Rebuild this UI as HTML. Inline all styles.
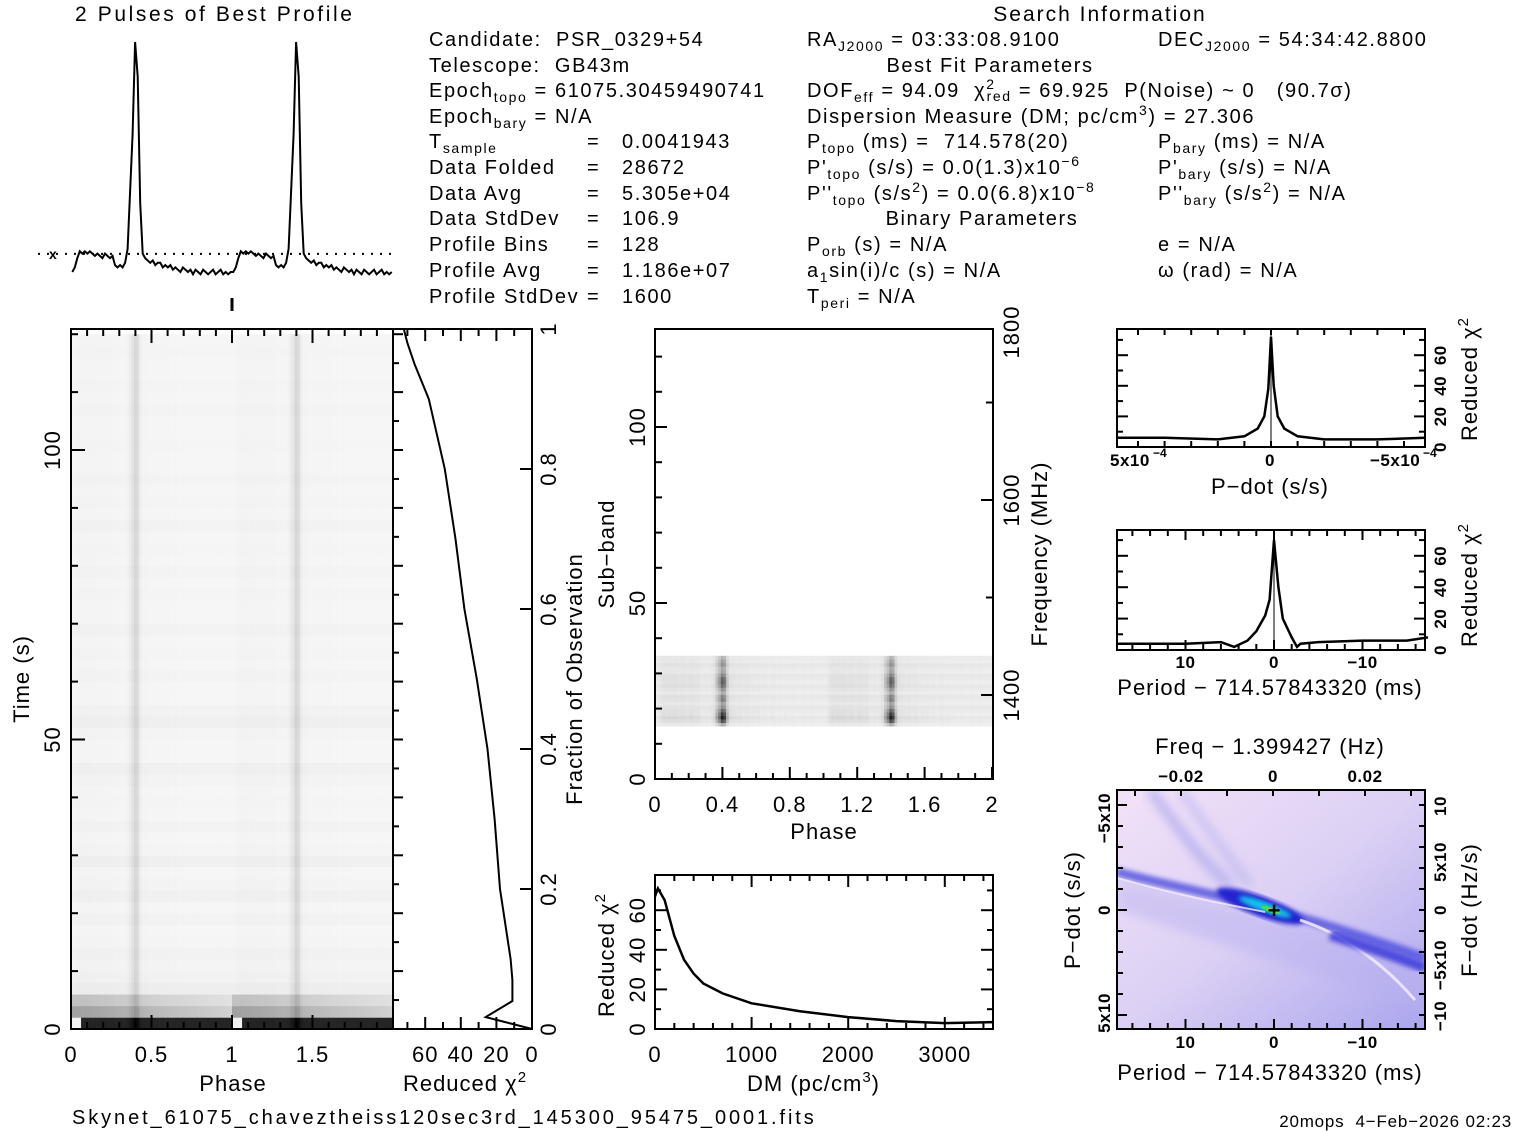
<!DOCTYPE html>
<html><head><meta charset="utf-8"><style>
html,body{margin:0;padding:0;background:#fff;}
svg{display:block;font-family:"Liberation Sans",sans-serif;}
text{fill:#000;font-size:20px;white-space:pre;}
.hd text{font-size:20px;letter-spacing:1.6px;}
</style></head><body>
<svg id="fig" width="1517" height="1133" viewBox="0 0 1517 1133" xmlns="http://www.w3.org/2000/svg" xml:space="preserve">
<defs>
<linearGradient id="bgGrad" x1="0" y1="0" x2="1" y2="1">
<stop offset="0" stop-color="#f2e2f8"/><stop offset="0.5" stop-color="#dcd0f4"/><stop offset="1" stop-color="#aaa6ee"/></linearGradient>
<filter id="blur4"><feGaussianBlur stdDeviation="5"/></filter>
<filter id="blur2"><feGaussianBlur stdDeviation="2.5"/></filter>
<clipPath id="mapClip"><rect x="1117" y="790" width="308" height="239"/></clipPath>
</defs>
<g id="layer"></g>
<g class="hd">
<text x="75" y="21" style="font-size:21px;letter-spacing:2.6px">2 Pulses of Best Profile</text>
<text x="1100" y="21" text-anchor="middle" style="font-size:21px;letter-spacing:2px">Search Information</text>
<text x="429" y="46">Candidate:  PSR_0329+54</text>
<text x="429" y="72">Telescope:  GB43m</text>
<text x="429" y="97">Epoch<tspan font-size="14" dy="5">topo</tspan><tspan dy="-5"> = 61075.30459490741</tspan></text>
<text x="429" y="123">Epoch<tspan font-size="14" dy="5">bary</tspan><tspan dy="-5"> = N/A</tspan></text>
<text x="429" y="148">T<tspan font-size="14" dy="5">sample</tspan></text>
<text x="429" y="174">Data Folded</text>
<text x="429" y="200">Data Avg</text>
<text x="429" y="225">Data StdDev</text>
<text x="429" y="251">Profile Bins</text>
<text x="429" y="277">Profile Avg</text>
<text x="429" y="303">Profile StdDev</text>
<text x="587" y="148">=</text><text x="587" y="174">=</text><text x="587" y="200">=</text><text x="587" y="225">=</text><text x="587" y="251">=</text><text x="587" y="277">=</text><text x="587" y="303">=</text>
<text x="622" y="148">0.0041943</text>
<text x="622" y="174">28672</text>
<text x="622" y="200">5.305e+04</text>
<text x="622" y="225">106.9</text>
<text x="622" y="251">128</text>
<text x="622" y="277">1.186e+07</text>
<text x="622" y="303">1600</text>
<text x="807" y="46">RA<tspan font-size="14" dy="5">J2000</tspan><tspan dy="-5"> = 03:33:08.9100</tspan></text>
<text x="1158" y="46">DEC<tspan font-size="14" dy="5">J2000</tspan><tspan dy="-5"> = 54:34:42.8800</tspan></text>
<text x="990" y="72" text-anchor="middle">Best Fit Parameters</text>
<text x="807" y="97">DOF<tspan font-size="14" dy="5">eff</tspan><tspan dy="-5"> = 94.09  χ</tspan><tspan font-size="14" dy="-8">2</tspan><tspan font-size="14" dy="12" dx="-9">red</tspan><tspan dy="-4"> = 69.925  P(Noise) ~ 0   (90.7σ)</tspan></text>
<text x="807" y="123">Dispersion Measure (DM; pc/cm<tspan font-size="14" dy="-8">3</tspan><tspan dy="8">) = 27.306</tspan></text>
<text x="807" y="148">P<tspan font-size="14" dy="5">topo</tspan><tspan dy="-5"> (ms) =  714.578(20)</tspan></text>
<text x="1158" y="148">P<tspan font-size="14" dy="5">bary</tspan><tspan dy="-5"> (ms) = N/A</tspan></text>
<text x="807" y="174">P'<tspan font-size="14" dy="5">topo</tspan><tspan dy="-5"> (s/s) = 0.0(1.3)x10</tspan><tspan font-size="14" dy="-8">−6</tspan></text>
<text x="1158" y="174">P'<tspan font-size="14" dy="5">bary</tspan><tspan dy="-5"> (s/s) = N/A</tspan></text>
<text x="807" y="200">P''<tspan font-size="14" dy="5">topo</tspan><tspan dy="-5"> (s/s</tspan><tspan font-size="14" dy="-8">2</tspan><tspan dy="8">) = 0.0(6.8)x10</tspan><tspan font-size="14" dy="-8">−8</tspan></text>
<text x="1158" y="200">P''<tspan font-size="14" dy="5">bary</tspan><tspan dy="-5"> (s/s</tspan><tspan font-size="14" dy="-8">2</tspan><tspan dy="8">) = N/A</tspan></text>
<text x="982" y="225" text-anchor="middle">Binary Parameters</text>
<text x="807" y="251">P<tspan font-size="14" dy="5">orb</tspan><tspan dy="-5"> (s) = N/A</tspan></text>
<text x="1158" y="251">e = N/A</text>
<text x="807" y="277">a<tspan font-size="14" dy="5">1</tspan><tspan dy="-5">sin(i)/c (s) = N/A</tspan></text>
<text x="1158" y="277">ω (rad) = N/A</text>
<text x="807" y="303">T<tspan font-size="14" dy="5">peri</tspan><tspan dy="-5"> = N/A</tspan></text>
<text x="72" y="1124" style="font-size:20px;letter-spacing:2.9px">Skynet_61075_chaveztheiss120sec3rd_145300_95475_0001.fits</text>
<text x="1512" y="1127" text-anchor="end" style="font-size:17px;letter-spacing:0.8px">20mops  4−Feb−2026 02:23</text>
</g>
</svg>
<script>
// ---- data ----
const profileBins = [0,2,6,9,8, 9,8,9,8,7,8,7,6,8,7,6,7, 3,2,3,2,4, 10,35,60,100,85,30,8,
 6,5,4,5,3,4,4,2,3,2,3,1,2,1,0,2,1,0,1,-1,1,0,-1,1,0,-1,0,1,-1,0,1,-1,0,-1,0];
const timeRowLevel = [215,70,45,14,10,8,10,7,6,9,6,11,8,6,12,7,6,9,6,7,6,8,11,6,6,7,12,9,6,6,8,6,7,6,9,6,6,7,6,8,6,7,6,9,6,7,6,8,6,6,7,6,6,8,6,7,6,6,7,6];
const chiFrac = [0,0.017,0.04,0.07,0.1,0.2,0.3,0.4,0.5,0.6,0.7,0.8,0.9,0.95,0.98,1];
const chiVals = [0,26,11,11,12,18,21,25,31,38,43,49,58,66,70,72];
const subbandLevel = [30,70,90,80,60,40,35,50,45,30,40,55,65,60,45,35,30,40,35,25];
const dmVals = [0,30,100,200,300,400,500,700,1000,1500,2000,2500,3000,3500];
const dmChi = [67,71,65,47,35,28,23,18,13,9,6,4,3,3.5];
const pdVals = [5.8e-4,4e-4,2e-4,1e-4,0.5e-4,0.25e-4,0.1e-4,0,-0.1e-4,-0.25e-4,-0.5e-4,-1e-4,-2e-4,-4e-4,-5.8e-4];
const pdChi = [6,6,5,7,12,20,38,72,40,20,12,7,5,5,6];
const perVals = [17.8,15,10,6,4.5,3,2,1,0.5,0,-0.5,-1,-2,-2.6,-3,-5,-10,-15,-17.4];
const perChi = [4,4,4,5,2,6,12,22,32,70,40,20,8,2,4,5,6,6,8];

const NS='http://www.w3.org/2000/svg';
const L=document.getElementById('layer');
function mk(tag,a,parent){const e=document.createElementNS(NS,tag);for(const k in a)e.setAttribute(k,a[k]);(parent||L).appendChild(e);return e;}
function txt(x,y,s,opt){const o=Object.assign({x:x,y:y,style:'font-size:22px;letter-spacing:1px'},opt||{});const e=mk('text',o);e.textContent=s;return e;}
function chiLabel(x,y,rot){const e=mk('text',{x:x,y:y,'text-anchor':'middle',style:'font-size:22px;letter-spacing:1px',transform:rot?`rotate(-90 ${x} ${y})`:'',dy:rot?7:0});
 const t1=document.createElementNS(NS,'tspan');t1.textContent='Reduced χ';e.appendChild(t1);
 const t2=document.createElementNS(NS,'tspan');t2.setAttribute('dy','-9');t2.setAttribute('font-size','15');t2.textContent='2';e.appendChild(t2);return e;}
function line(x1,y1,x2,y2,w){return mk('line',{x1,y1,x2,y2,stroke:'#000','stroke-width':w||2});}
function pathFrom(xs,ys,fx,fy){let d='';for(let i=0;i<xs.length;i++)d+=(i?'L':'M')+fx(xs[i]).toFixed(1)+','+fy(ys[i]).toFixed(1);return d;}
const SM='font-size:17px;font-weight:bold;letter-spacing:0.5px';

// ---- profile (top left) ----
const prX=ph=>71+ph*161, prY=v=>272-v*2.3;
const nb=profileBins.length;
let pd='';
for(let r=0;r<2;r++)for(let i=0;i<nb;i++){pd+=(pd?'L':'M')+prX(r+(i+0.5)/nb).toFixed(1)+','+prY(profileBins[i]).toFixed(1);}
const prof=mk('path',{d:pd,fill:'none',stroke:'#000','stroke-width':2});


const mean=profileBins.reduce((a,b)=>a+b,0)/nb;
const ml=mk('line',{x1:38,y1:prY(mean),x2:395,y2:prY(mean),stroke:'#000','stroke-width':2,'stroke-dasharray':'2,7'});


txt(49,prY(mean)+5,'x',{style:'font-size:14px;font-weight:bold'});
line(232,298,232,311,3);

// ---- time vs phase greyscale ----
const tpX=ph=>71+ph*161, tpY=t=>1029-t*5.79;
const g1=mk('g',{});


const rowDur=2;
for(let r=0;r<timeRowLevel.length;r++){
 const y0=tpY((r+1)*rowDur), y1=tpY(r*rowDur);
 if(y0<329)continue;
 for(let p=0;p<2;p++)for(let i=0;i<nb;i++){
  let dark=timeRowLevel[r]*(r<3?(r===0?1:(1.3-0.7*i/nb)):1)+Math.max(0,profileBins[i])*0.3;
  if(r===0&&i<4)dark=10;
  const c=Math.max(0,Math.min(255,Math.round(252-dark)));
  mk('rect',{x:tpX(p+i/nb).toFixed(2),y:y0.toFixed(2),width:(161/nb+0.3).toFixed(2),height:(y1-y0+0.3).toFixed(2),fill:`rgb(${c},${c},${c})`},g1);
 }
}
mk('rect',{x:71,y:329,width:322,height:700,fill:'none',stroke:'#000','stroke-width':2});
for(let v=0;v<=2.0001;v+=0.1){const x=tpX(v);const maj=Math.abs(v*2-Math.round(v*2))<1e-6;line(x,1029,x,1029-(maj?14:7),2);line(x,329,x,329+(maj?14:7),2);}
for(let t=0;t<=120;t+=10){const y=tpY(t);const maj=t%50===0;line(71,y,71+(maj?14:7),y,2);}
[['0',0],['0.5',0.5],['1',1],['1.5',1.5]].forEach(a=>txt(tpX(a[1]),1062,a[0],{'text-anchor':'middle'}));
[['0',0],['50',50],['100',100]].forEach(a=>txt(53,tpY(a[1]),a[0],{'text-anchor':'middle',transform:`rotate(-90 53 ${tpY(a[1])})`,dy:7}));
txt(233,1091,'Phase',{'text-anchor':'middle'});
txt(22,679,'Time (s)',{'text-anchor':'middle',transform:'rotate(-90 22 679)',dy:7});

// ---- chi2 vs fraction ----
const cX=c=>532-c*1.78, fY=f=>1029-f*700;
mk('rect',{x:393,y:329,width:139,height:700,fill:'none',stroke:'#000','stroke-width':2});
const cp=mk('path',{d:pathFrom(chiVals,chiFrac,cX,fY),fill:'none',stroke:'#000','stroke-width':2});


for(let c=0;c<=70;c+=10){const x=cX(c);const maj=c%20===0;line(x,1029,x,1029-(maj?12:7),2);line(x,329,x,329+(maj?12:7),2);}
for(let f=0;f<=1.0001;f+=0.05){const y=fY(f);const maj=Math.abs(f*5-Math.round(f*5))<1e-6;line(532,y,532-(maj?12:0),y,2);}
for(let t=0;t<=120;t+=5){const y=tpY(t);if(y<329)continue;line(393,y,393+(t%10===0?10:6),y,2);}
[['60',60],['40',40],['20',20],['0',0]].forEach(a=>txt(cX(a[1]),1062,a[0],{'text-anchor':'middle'}));
[['0',0],['0.2',0.2],['0.4',0.4],['0.6',0.6],['0.8',0.8],['1',1]].forEach(a=>txt(549,fY(a[1]),a[0],{'text-anchor':'middle',transform:`rotate(-90 549 ${fY(a[1])})`,dy:7}));
chiLabel(465,1091,false);
txt(575,679,'Fraction of Observation',{'text-anchor':'middle',transform:'rotate(-90 575 679)',dy:7});

// ---- sub-band vs phase ----
const sX=ph=>655+ph*168.5, sY=s=>779-s*3.52;
const g2=mk('g',{});


for(let s=0;s<subbandLevel.length;s++){
 const sb=15+s, y0=sY(sb+1), y1=sY(sb);
 for(let p=0;p<2;p++)for(let i=0;i<nb;i++){
  const dark=8+(s%3)*3+Math.max(0,profileBins[i])*subbandLevel[s]/45;
  const c=Math.max(0,Math.round(246-dark));
  mk('rect',{x:sX(p+i/nb).toFixed(2),y:y0.toFixed(2),width:(168.5/nb+0.3).toFixed(2),height:(y1-y0+0.3).toFixed(2),fill:`rgb(${c},${c},${c})`},g2);
 }
}
mk('rect',{x:655,y:329,width:338,height:450,fill:'none',stroke:'#000','stroke-width':2});
for(let v=0;v<=2.0001;v+=0.1){const x=sX(v);const maj=Math.abs(v*2.5-Math.round(v*2.5))<1e-6;line(x,779,x,779-(maj?12:6),2);}
for(let s=0;s<=125;s+=10){const y=sY(s);if(y<329)continue;line(655,y,655+(s%50===0?12:7),y,2);}
for(const f of [1300,1400,1500,1600,1700,1800]){const y=695-(f-1400)*0.975;if(y<329||y>779)continue;line(993,y,993-(f%200===0?12:7),y,2);}
[['0',0],['0.4',0.4],['0.8',0.8],['1.2',1.2],['1.6',1.6],['2',2]].forEach(a=>txt(sX(a[1]),812,a[0],{'text-anchor':'middle'}));
[['0',0],['50',50],['100',100]].forEach(a=>txt(638,sY(a[1]),a[0],{'text-anchor':'middle',transform:`rotate(-90 638 ${sY(a[1])})`,dy:7}));
[['1400',695],['1600',500],['1800',332]].forEach(a=>txt(1012,a[1],a[0],{'text-anchor':'middle',transform:`rotate(-90 1012 ${a[1]})`,dy:7}));
txt(824,839,'Phase',{'text-anchor':'middle'});
txt(607,554,'Sub−band',{'text-anchor':'middle',transform:'rotate(-90 607 554)',dy:7});
txt(1040,554,'Frequency (MHz)',{'text-anchor':'middle',transform:'rotate(-90 1040 554)',dy:7});

// ---- DM curve ----
const dX=d=>655+d*0.0966, dY=c=>1029-c*1.98;
mk('rect',{x:655,y:875,width:338,height:154,fill:'none',stroke:'#000','stroke-width':2});
const dp=mk('path',{d:pathFrom(dmVals,dmChi,dX,dY),fill:'none',stroke:'#000','stroke-width':2.5});


for(let d=0;d<=3500;d+=200){const x=dX(d);const maj=d%1000===0;line(x,1029,x,1029-(maj?12:6),2);line(x,875,x,875+(maj?12:6),2);}
for(let c=0;c<=70;c+=10){const y=dY(c);const maj=c%20===0;line(655,y,655+(maj?12:6),y,2);line(993,y,993-(maj?12:6),y,2);}
[['0',0],['1000',1000],['2000',2000],['3000',3000]].forEach(a=>txt(dX(a[1]),1062,a[0],{'text-anchor':'middle'}));
[['0',0],['20',20],['40',40],['60',60]].forEach(a=>txt(638,dY(a[1]),a[0],{'text-anchor':'middle',transform:`rotate(-90 638 ${dY(a[1])})`,dy:7}));
{const e=mk('text',{x:747,y:1091,style:'font-size:22px;letter-spacing:1px'});e.textContent='DM (pc/cm';const t=document.createElementNS(NS,'tspan');t.setAttribute('dy','-9');t.setAttribute('font-size','15');t.textContent='3';e.appendChild(t);const t2=document.createElementNS(NS,'tspan');t2.setAttribute('dy','9');t2.textContent=')';e.appendChild(t2);}
chiLabel(607,955,true);

// ---- P-dot curve ----
const pX=p=>1271-p*266000, pY=c=>447-c*1.53;
mk('rect',{x:1117,y:329,width:308,height:118,fill:'none',stroke:'#000','stroke-width':2});
const pp=mk('path',{d:pathFrom(pdVals,pdChi,pX,pY),fill:'none',stroke:'#000','stroke-width':2.5});


line(1271,329,1271,447,1);
for(let k=-5;k<=5;k++){const x=pX(k*1e-4);line(x,447,x,441,2);line(x,329,x,335,2);}
for(let c=0;c<=70;c+=10){const y=pY(c);if(y<329)continue;const maj=c%20===0;line(1117,y,1117+(maj?11:6),y,2);line(1425,y,1425-(maj?11:6),y,2);}
txt(1110,466,'5x10',{style:SM});txt(1153,457,'−4',{style:'font-size:12px;font-weight:bold'});
txt(1270,466,'0',{'text-anchor':'middle',style:SM});
txt(1370,466,'−5x10',{style:SM});txt(1423,457,'−4',{style:'font-size:12px;font-weight:bold'});
[['0',0],['20',20],['40',40],['60',60]].forEach(a=>txt(1440,pY(a[1]),a[0],{'text-anchor':'middle',style:SM,transform:`rotate(-90 1440 ${pY(a[1])})`,dy:6}));
txt(1270,494,'P−dot (s/s)',{'text-anchor':'middle'});
chiLabel(1470,379,true);

// ---- Period curve ----
const qX=m=>1274-m*8.85, qY=c=>650-c*1.57;
mk('rect',{x:1117,y:530,width:308,height:120,fill:'none',stroke:'#000','stroke-width':2});
const qp=mk('path',{d:pathFrom(perVals,perChi,qX,qY),fill:'none',stroke:'#000','stroke-width':2.5});


line(1274,530,1274,650,1);
for(let m=-16;m<=16;m+=2){const x=qX(m);line(x,650,x,650-(m%10===0?10:6),2);line(x,530,x,530+(m%10===0?10:6),2);}
for(let c=0;c<=70;c+=10){const y=qY(c);const maj=c%20===0;line(1117,y,1117+(maj?11:6),y,2);line(1425,y,1425-(maj?11:6),y,2);}
[['10',10],['0',0],['−10',-10]].forEach(a=>txt(qX(a[1]),668,a[0],{'text-anchor':'middle',style:SM}));
[['0',0],['20',20],['40',40],['60',60]].forEach(a=>txt(1440,qY(a[1]),a[0],{'text-anchor':'middle',style:SM,transform:`rotate(-90 1440 ${qY(a[1])})`,dy:6}));
txt(1270,695,'Period − 714.57843320 (ms)',{'text-anchor':'middle'});
chiLabel(1470,585,true);

// ---- P / P-dot map ----
const gm=mk('g',{'clip-path':'url(#mapClip)'});


mk('rect',{x:1117,y:790,width:308,height:239,fill:'url(#bgGrad)'},gm);
mk('polygon',{points:'1117,880 1425,950 1425,1010 1117,910',fill:'#b8b0f0',opacity:0.45,filter:'url(#blur4)'},gm);
mk('path',{d:'M1150,790 C1180,830 1200,860 1230,885',stroke:'#9090e8','stroke-width':10,fill:'none',opacity:0.5,filter:'url(#blur4)'},gm);
mk('path',{d:'M1180,790 C1210,830 1230,860 1250,885',stroke:'#9898ea','stroke-width':8,fill:'none',opacity:0.4,filter:'url(#blur4)'},gm);
mk('path',{d:'M1117,872 C1180,888 1220,895 1273,910 C1330,925 1380,942 1425,958',stroke:'#5050e0','stroke-width':9,fill:'none',opacity:0.8,filter:'url(#blur2)'},gm);
mk('ellipse',{cx:1260,cy:906,rx:46,ry:10,fill:'#2020d0',transform:'rotate(20 1260 906)',filter:'url(#blur2)'},gm);
mk('ellipse',{cx:1265,cy:907,rx:28,ry:5,fill:'#10c8e8',transform:'rotate(20 1265 907)',filter:'url(#blur2)'},gm);
mk('ellipse',{cx:1271,cy:910,rx:10,ry:2.5,fill:'#40e040',transform:'rotate(20 1271 910)'},gm);
mk('ellipse',{cx:1271,cy:910,rx:4,ry:1.5,fill:'#f0a000',transform:'rotate(20 1271 910)'},gm);
mk('path',{d:'M1117,878 C1180,896 1230,905 1265,912',stroke:'#f4ecff','stroke-width':2,fill:'none',opacity:0.8},gm);
mk('path',{d:'M1300,920 C1345,935 1385,965 1415,1000',stroke:'#f4ecff','stroke-width':3,fill:'none',opacity:0.85},gm);
mk('path',{d:'M1330,935 C1370,948 1400,958 1425,968',stroke:'#3030d8','stroke-width':10,fill:'none',opacity:0.8,filter:'url(#blur2)'},gm);
txt(1274,918,'+',{'text-anchor':'middle',style:'font-size:22px;font-weight:bold'});
mk('rect',{x:1117,y:790,width:308,height:239,fill:'none',stroke:'#000','stroke-width':2});
for(let m=-16;m<=16;m+=2){const x=qX(m);line(x,1029,x,1029-(m%10===0?10:6),2);}
for(const f of [-0.03,-0.02,-0.01,0,0.01,0.02,0.03]){const x=1273+f*4600;if(x<1117||x>1425)continue;line(x,790,x,796,2);}
for(let k=-6;k<=6;k++){const y=910+k*21;if(y<790||y>1029)continue;line(1117,y,1117+(k%5===0?10:6),y,2);line(1425,y,1425-6,y,2);}
[['10',10],['0',0],['−10',-10]].forEach(a=>txt(qX(a[1]),1048,a[0],{'text-anchor':'middle',style:SM}));
[['−0.02',-0.02],['0',0],['0.02',0.02]].forEach(a=>txt(1273+a[1]*4600,782,a[0],{'text-anchor':'middle',style:SM}));
txt(1270,754,'Freq − 1.399427 (Hz)',{'text-anchor':'middle'});
txt(1270,1080,'Period − 714.57843320 (ms)',{'text-anchor':'middle'});
txt(1104,910,'0',{'text-anchor':'middle',style:SM,transform:'rotate(-90 1104 910)',dy:6});
txt(1104,818,'−5x10',{'text-anchor':'middle',style:SM,transform:'rotate(-90 1104 818)',dy:6});
txt(1104,1013,'5x10',{'text-anchor':'middle',style:SM,transform:'rotate(-90 1104 1013)',dy:6});
txt(1440,910,'0',{'text-anchor':'middle',style:SM,transform:'rotate(-90 1440 910)',dy:6});
txt(1440,862,'5x10',{'text-anchor':'middle',style:SM,transform:'rotate(-90 1440 862)',dy:6});
txt(1440,965,'−5x10',{'text-anchor':'middle',style:SM,transform:'rotate(-90 1440 965)',dy:6});
txt(1440,806,'10',{'text-anchor':'middle',style:SM,transform:'rotate(-90 1440 806)',dy:6});
txt(1440,1016,'−10',{'text-anchor':'middle',style:SM,transform:'rotate(-90 1440 1016)',dy:6});
txt(1073,910,'P−dot (s/s)',{'text-anchor':'middle',transform:'rotate(-90 1073 910)',dy:7});
txt(1470,910,'F−dot (Hz/s)',{'text-anchor':'middle',transform:'rotate(-90 1470 910)',dy:7});
</script>
</body></html>
